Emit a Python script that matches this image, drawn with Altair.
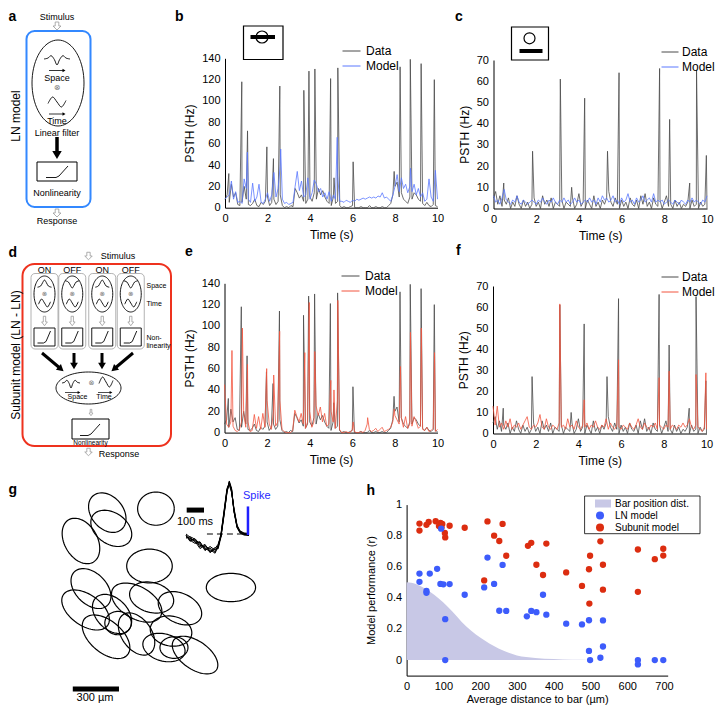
import numpy as np
import pandas as pd
import altair as alt

FONT = "Liberation Sans"
W, H = 707, 698          # canvas; the page adds an 8 px margin
M = 8                    # a reference pixel p is drawn at canvas p - M

DATA_C = "#4a4a4a"
BLUE_M = "#5b78ff"
RED_M = "#f2553f"
LN_C = "#3d5cfb"
SU_C = "#dc2d10"
LAV = "#c8c8e6"
GRAY = "#9a9a9a"

# ======================= b, c, e, f : PSTH traces (Hz) =======================
t_grid = [round(0.1 * i, 1) for i in range(101)]

b_data_base = [8, 12, 5, 22, 10, 14, 3, 2, 5, 20, 8, 3, 2, 4, 8, 2, 1, 5, 3, 6,
               10, 2, 5, 8, 3, 6, 12, 2, 0, 1, 0, 2, 1, 18, 14, 9, 12, 6, 4, 8,
               10, 6, 14, 8, 18, 12, 16, 10, 6, 4, 2, 10, 4, 6, 2, 0, 1, 0, 0, 1,
               2, 0, 0, 0, 1, 0, 0, 0, 2, 0, 0, 1, 0, 0, 1, 0, 0, 2, 4, 12,
               20, 24, 10, 14, 8, 6, 4, 10, 8, 14, 12, 8, 6, 4, 2, 5, 2, 1, 3, 2, 1]
b_data_spike_t = [0.18, 0.79, 1.06, 1.97, 2.28, 2.58, 3.71, 3.95, 4.23, 4.97, 5.13, 5.31,
                  6.03, 7.96, 8.24, 8.72, 9.23, 9.85]
b_data_spike_v = [32, 118, 72, 57, 46, 114, 110, 128, 130, 121, 28, 131, 43, 34, 132, 139, 135, 120]

b_model_base = [8, 10, 12, 25, 8, 15, 5, 6, 4, 27, 18, 8, 5, 23, 6, 10, 22, 5, 4, 8,
                14, 6, 12, 33, 10, 18, 40, 8, 4, 5, 3, 4, 5, 20, 34, 16, 25, 10, 12, 28,
                8, 14, 26, 22, 15, 18, 10, 14, 8, 15, 6, 12, 8, 30, 6, 6, 5, 7, 6, 5,
                7, 6, 8, 7, 8, 9, 8, 9, 10, 9, 10, 9, 11, 10, 14, 9, 10, 8, 6, 12,
                20, 31, 15, 28, 18, 22, 14, 20, 15, 22, 12, 18, 10, 14, 6, 8, 27, 10, 6, 35, 8]
b_model_peak_t = [1.05, 2.62, 5.28, 8.73]
b_model_peak_v = [52, 55, 66, 37]

e_model_base = [45, 8, 5, 10, 6, 2, 1, 3, 10, 18, 5, 10, 1, 2, 17, 4, 15, 3, 18, 5,
                30, 8, 3, 20, 6, 10, 30, 3, 1, 0, 0, 0, 2, 21, 15, 10, 18, 8, 4, 10,
                20, 5, 10, 25, 16, 24, 10, 18, 6, 8, 20, 10, 4, 30, 3, 0, 0, 1, 0, 0,
                3, 1, 0, 0, 1, 0, 2, 8, 3, 1, 2, 4, 1, 3, 5, 1, 2, 3, 5, 10,
                16, 12, 8, 14, 5, 15, 4, 8, 6, 15, 10, 4, 6, 3, 2, 5, 1, 2, 4, 1, 3]
e_model_peak_t = [0.35, 0.84, 1.08, 1.98, 2.31, 2.59, 3.77, 3.98, 4.24, 4.99, 5.14, 5.32,
                  6.04, 6.72, 7.97, 8.26, 8.73, 9.24, 9.86]
e_model_peak_v = [77, 98, 64, 60, 54, 95, 75, 122, 76, 49, 40, 124, 10, 14, 22, 62, 94, 98, 75]

c_data_base = [5, 8, 2, 6, 1, 4, 2, 5, 0, 3, 1, 6, 2, 0, 4, 1, 3, 0, 2, 5,
               1, 3, 0, 6, 2, 4, 1, 5, 0, 3, 2, 1, 4, 0, 3, 2, 1, 5, 0, 2,
               7, 1, 3, 0, 4, 2, 0, 6, 1, 3, 0, 4, 2, 5, 8, 3, 1, 5, 2, 0,
               4, 1, 3, 0, 5, 2, 1, 4, 0, 6, 2, 7, 1, 3, 0, 5, 2, 1, 4, 0,
               3, 6, 1, 2, 0, 4, 1, 3, 0, 2, 1, 3, 0, 4, 1, 2, 0, 3, 1, 2, 0]
c_data_spike_t = [0.48, 1.83, 3.13, 3.66, 4.27, 5.34, 5.88, 7.78, 8.25, 9.19, 9.51, 9.97]
c_data_spike_v = [12, 27, 61, 10, 52, 27, 64, 66, 42, 12, 65, 25]

c_model_base = [6, 3, 4, 2, 5, 9, 4, 3, 2, 4, 3, 6, 3, 2, 4, 3, 2, 3, 4, 3,
                2, 4, 3, 5, 3, 2, 4, 3, 5, 3, 2, 4, 3, 5, 3, 4, 2, 3, 5, 3,
                4, 2, 3, 4, 3, 5, 3, 4, 2, 5, 3, 6, 4, 5, 3, 4, 6, 3, 4, 2,
                5, 3, 4, 7, 3, 4, 2, 5, 3, 4, 6, 3, 4, 5, 3, 7, 3, 4, 3, 4,
                2, 3, 4, 3, 2, 4, 3, 2, 4, 3, 2, 4, 3, 5, 3, 4, 3, 2, 4, 3, 6]

f_model_base = [13, 4, 13, 3, 5, 2, 6, 3, 7, 2, 4, 3, 5, 2, 4, 6, 8, 3, 2, 4,
                3, 5, 9, 3, 2, 7, 3, 2, 4, 3, 2, 5, 3, 4, 2, 7, 3, 4, 2, 6,
                3, 2, 4, 3, 5, 2, 4, 3, 6, 3, 2, 4, 3, 7, 2, 5, 3, 2, 4, 3,
                2, 4, 3, 2, 5, 3, 2, 4, 7, 3, 2, 5, 3, 2, 4, 3, 5, 2, 4, 3,
                2, 4, 3, 2, 4, 3, 2, 4, 3, 5, 3, 4, 7, 3, 2, 4, 3, 2, 1, 3, 2]
f_model_peak_t = [3.13, 4.27, 5.88, 7.78, 8.25, 9.51, 9.97]
f_model_peak_v = [61.5, 16, 35, 26.5, 29.6, 28, 28.8]

# ======================= h : model performance =======================
ln_dist = [35, 35, 54, 54, 63, 83, 92, 100, 117, 94, 105, 105, 158, 211, 220, 238, 261, 252, 271,
           327, 339, 353, 371, 380, 434, 477, 496, 496, 499, 527, 534, 534, 629, 629, 675, 698]
ln_perf = [0.556, 0.503, 0.444, 0.433, 0.556, 0.587, 0.49, 0.487, 0.489, 0.845, 0.263, 0.0,
           0.42, 0.467, 0.659, 0.49, 0.612, 0.317, 0.316, 0.281, 0.316, 0.308, 0.42, 0.292,
           0.234, 0.229, 0.256, 0.059, 0.0, 0.015, 0.255, 0.087, 0.0, -0.028, 0.0, 0.0]
su_dist = [35, 35, 54, 60, 79, 88, 92, 95, 97, 104, 105, 117, 158, 220, 238, 252, 261, 271, 211,
           330, 339, 353, 371, 380, 434, 477, 496, 499, 497, 527, 534, 534, 629, 629, 675, 698, 698]
su_perf = [0.878, 0.833, 0.87, 0.888, 0.893, 0.862, 0.883, 0.854, 0.875, 0.818, 0.789, 0.864,
           0.851, 0.892, 0.80, 0.766, 0.876, 0.671, 0.512, 0.735, 0.754, 0.613, 0.547, 0.749,
           0.564, 0.477, 0.584, 0.671, 0.363, 0.764, 0.613, 0.453, 0.711, 0.439, 0.649, 0.716, 0.672]
bar_dist = [0, 25, 50, 75, 100, 125, 150, 175, 200, 250, 300, 350, 400, 450, 500, 555]
bar_prob = [0.50, 0.49, 0.46, 0.42, 0.37, 0.31, 0.245, 0.19, 0.145, 0.075, 0.03, 0.014, 0.006, 0.002, 0.001, 0.0]
h_models = ["Bar position dist.", "LN model", "Subunit model"]

# ======================= g : receptive fields (µm) =======================
rf_cx = [372, 398, 201, 688, 646, 1175, 231, 266, 403, 364, 442, 563, 660, 844, 562, 786, 740, 805, 942]
rf_cy = [212, 314, 396, 186, 559, 698, 844, 705, 870, 1018, 929, 796, 763, 833, 1000, 981, 1088, 1088, 1137]
rf_semi_major = [143, 146, 159, 119, 148, 160, 175, 153, 149, 182, 86, 179, 146, 149, 153, 136, 140, 91, 169]
rf_semi_minor = [104, 101, 107, 108, 110, 92, 101, 101, 101, 104, 76, 104, 97, 97, 97, 97, 88, 70, 91]
rf_angle = [50, 35, 60, 0, 0, 0, 35, 45, 45, 40, 0, 30, 15, 25, 55, 10, 15, 0, 35]

# spike-triggered waveforms (inset), time in ms before the spike
sta_t = [-364, -341, -312, -283, -254, -225, -196, -179, -162, -144, -127, -114, -101, -87, -69, -52, -29, 0]
sta_traces = [
    [-0.04, -0.10, -0.12, -0.22, -0.24, -0.33, -0.30, -0.25, -0.03, 0.40, 0.84, 1.00, 0.86, 0.45, 0.14, 0.03, 0.00, -0.02],
    [0.00, -0.06, -0.16, -0.15, -0.30, -0.27, -0.35, -0.22, 0.00, 0.45, 0.88, 0.97, 0.82, 0.48, 0.16, 0.05, 0.01, 0.00],
    [-0.08, -0.05, -0.10, -0.25, -0.20, -0.36, -0.28, -0.20, -0.05, 0.38, 0.80, 1.02, 0.88, 0.43, 0.12, 0.02, -0.02, -0.03],
    [-0.02, -0.12, -0.18, -0.16, -0.32, -0.24, -0.31, -0.27, -0.01, 0.43, 0.86, 0.95, 0.80, 0.50, 0.17, 0.06, 0.02, 0.01],
    [-0.06, -0.08, -0.14, -0.28, -0.22, -0.30, -0.37, -0.24, -0.04, 0.41, 0.83, 0.99, 0.85, 0.46, 0.13, 0.04, -0.01, -0.01],
    [-0.03, -0.14, -0.09, -0.20, -0.27, -0.34, -0.26, -0.29, -0.06, 0.36, 0.82, 0.96, 0.87, 0.44, 0.15, 0.03, 0.00, -0.02],
]


# ======================= helpers =======================
def sc(domain, r0, r1):
    return alt.Scale(domain=domain, range=[r0 - M, r1 - M], nice=False, zero=False)


def trace(base, st, sv):
    return pd.DataFrame({"t": t_grid + list(st), "v": list(base) + list(sv)})


def psth_panel(data_df, model_df, ymax, ystep, mcolor, x0, x1, y0, y1, lx, ly, sym=324, loff=5):
    xs = sc([0, 10], x0, x1)
    ys = sc([0, ymax], y0, y1)
    xa = alt.Axis(orient="bottom", offset=(y0 - M) - H, values=[0, 2, 4, 6, 8, 10],
                  title="Time (s)", titlePadding=6)
    ya = alt.Axis(orient="left", offset=-(x0 - M), values=list(range(0, ymax + 1, ystep)),
                  title="PSTH (Hz)", titlePadding=5)
    cs = alt.Scale(domain=["Data", "Model"], range=[DATA_C, mcolor])
    lg = alt.Legend(orient="none", legendX=lx - M, legendY=ly - M - 7.25, title=None,
                    symbolType="stroke", symbolSize=sym, symbolStrokeWidth=1,
                    clipHeight=14.5, rowPadding=0, padding=0, labelOffset=loff,
                    labelFontSize=12, labelFont=FONT, labelColor="black")
    layers = []
    for df, name in ((data_df, "Data"), (model_df, "Model")):
        layers.append(alt.Chart(df.assign(series=name)).mark_line(strokeWidth=0.8).encode(
            x=alt.X("t:Q", scale=xs, axis=xa),
            y=alt.Y("v:Q", scale=ys, axis=ya),
            color=alt.Color("series:N", scale=cs, legend=lg)))
    return alt.layer(*layers)


def ellipse_rows(key, cx, cy, a, b, ang, n=72):
    tt = np.linspace(0, 2 * np.pi, n + 1)
    th = np.radians(ang)
    xs = cx + a * np.cos(tt) * np.cos(th) - b * np.sin(tt) * np.sin(th)
    ys = cy + a * np.cos(tt) * np.sin(th) + b * np.sin(tt) * np.cos(th)
    return [(key, k, float(x), float(y)) for k, (x, y) in enumerate(zip(xs, ys))]


# ======================= panels b, c, e, f =======================
b_data = trace(b_data_base, b_data_spike_t, b_data_spike_v)
c_data = trace(c_data_base, c_data_spike_t, c_data_spike_v)
panel_b = psth_panel(b_data, trace(b_model_base, b_model_peak_t, b_model_peak_v),
                     140, 20, BLUE_M, 225, 437.5, 207.7, 58.3, 342, 51)
panel_c = psth_panel(c_data, trace(c_model_base, [], []),
                     70, 10, BLUE_M, 493.5, 707, 208.5, 60, 661, 52, sym=289, loff=3)
panel_e = psth_panel(b_data, trace(e_model_base, e_model_peak_t, e_model_peak_v),
                     140, 20, RED_M, 224.5, 437.5, 432.6, 283.3, 341, 276)
panel_f = psth_panel(c_data, trace(f_model_base, f_model_peak_t, f_model_peak_v),
                     70, 10, RED_M, 493, 706.5, 433.5, 286, 661, 277, sym=289, loff=3)

# ======================= panel h =======================
hx = sc([0, 710], 406.6, 406.6 + 710 * 257.4 / 700)
hy = sc([-0.1, 1.0], 675.6, 504.6)
hxa = alt.Axis(orient="bottom", offset=(675.6 - M) - H, values=list(range(0, 701, 100)),
               title="Average distance to bar (µm)", titlePadding=2, titleFontSize=11)
hya = alt.Axis(orient="left", offset=-(406.6 - M), values=[0, 0.2, 0.4, 0.6, 0.8, 1.0],
               format="~g", title="Model performance (r)", titlePadding=10, titleFontSize=11)
RECT_PATH = "M-2.75,-1L2.75,-1L2.75,1L-2.75,1Z"
h_leg = alt.Legend(orient="none", legendX=587, legendY=489.75, title=None, symbolSize=64,
                   clipHeight=11.7, rowPadding=0, padding=0, labelOffset=10, labelFontSize=10,
                   labelFont=FONT, labelColor="black", symbolStrokeWidth=0, symbolOpacity=1)
h_cs = alt.Scale(domain=h_models, range=[LAV, LN_C, SU_C])
h_ss = alt.Scale(domain=h_models, range=[RECT_PATH, "circle", "circle"])

bar_df = pd.DataFrame({"d": bar_dist, "p": bar_prob})
pts_df = pd.concat([
    pd.DataFrame({"d": su_dist, "p": su_perf, "model": "Subunit model"}),
    pd.DataFrame({"d": ln_dist, "p": ln_perf, "model": "LN model"}),
])
h_area = alt.Chart(bar_df).mark_area(color=LAV, opacity=1, interpolate="monotone").encode(
    x=alt.X("d:Q", scale=hx, axis=hxa), y=alt.Y("p:Q", scale=hy, axis=hya))
h_pts = alt.Chart(pts_df).mark_point(filled=True, opacity=1, size=40, strokeWidth=0).encode(
    x=alt.X("d:Q", scale=hx, axis=hxa), y=alt.Y("p:Q", scale=hy, axis=hya),
    color=alt.Color("model:N", scale=h_cs, legend=h_leg),
    shape=alt.Shape("model:N", scale=h_ss, legend=h_leg))
panel_h = alt.layer(h_area, h_pts)

# ======================= panel g =======================
gx = sc([0, 1400], 50, 50 + 1400 / 6.494)
gy = sc([0, 1400], 480, 480 + 1400 / 6.494)
rf_rows = []
for i in range(len(rf_cx)):
    rf_rows += ellipse_rows(i, rf_cx[i], rf_cy[i], rf_semi_major[i], rf_semi_minor[i], rf_angle[i])
rf_df = pd.DataFrame(rf_rows, columns=["id", "k", "x", "y"])
g_ell = alt.Chart(rf_df).mark_line(color="black", strokeWidth=1.2).encode(
    x=alt.X("x:Q", scale=gx, axis=None), y=alt.Y("y:Q", scale=gy, axis=None),
    detail="id:N", order="k:Q")
g_bar = alt.Chart(pd.DataFrame({"x0": [148], "x1": [448], "y": [1357]})).mark_rule(
    color="black", strokeWidth=5, strokeCap="butt").encode(
    x=alt.X("x0:Q", scale=gx, axis=None), x2="x1:Q", y=alt.Y("y:Q", scale=gy, axis=None))
g_txt = alt.Chart(pd.DataFrame({"x": [292], "y": [1415], "s": ["300 µm"]})).mark_text(
    font=FONT, fontSize=11, color="black").encode(
    x=alt.X("x:Q", scale=gx, axis=None), y=alt.Y("y:Q", scale=gy, axis=None), text="s:N")
panel_g = alt.layer(g_ell, g_bar, g_txt)

# inset: spike-triggered waveforms
ix = sc([-364, 0], 186, 249)
iy = sc([-0.4, 1.0], 554.8, 482)
sta_df = pd.DataFrame([(j, t, v) for j, tr in enumerate(sta_traces) for t, v in zip(sta_t, tr)],
                      columns=["tr", "t", "v"])
in_lines = alt.Chart(sta_df).mark_line(color="black", strokeWidth=1).encode(
    x=alt.X("t:Q", scale=ix, axis=None), y=alt.Y("v:Q", scale=iy, axis=None), detail="tr:N")
in_base = alt.Chart(pd.DataFrame({"t0": [-243], "t1": [-23], "v": [0]})).mark_rule(
    color="black", strokeWidth=1, strokeDash=[6, 4]).encode(
    x=alt.X("t0:Q", scale=ix, axis=None), x2="t1:Q", y=alt.Y("v:Q", scale=iy, axis=None))
in_scale = alt.Chart(pd.DataFrame({"t0": [-360], "t1": [-260], "v": [0.46]})).mark_rule(
    color="black", strokeWidth=5, strokeCap="butt").encode(
    x=alt.X("t0:Q", scale=ix, axis=None), x2="t1:Q", y=alt.Y("v:Q", scale=iy, axis=None))
in_spike = alt.Chart(pd.DataFrame({"t": [-6], "v0": [-0.02], "v1": [0.53]})).mark_rule(
    color="#2020ff", strokeWidth=2.5, strokeCap="butt").encode(
    x=alt.X("t:Q", scale=ix, axis=None), y=alt.Y("v0:Q", scale=iy, axis=None), y2="v1:Q")
in_txt = alt.Chart(pd.DataFrame({"t": [-312, 45], "v": [0.23, 0.74], "s": ["100 ms", "Spike"],
                                 "c": ["black", "#2828ff"]})).mark_text(font=FONT, fontSize=11).encode(
    x=alt.X("t:Q", scale=ix, axis=None), y=alt.Y("v:Q", scale=iy, axis=None), text="s:N",
    color=alt.Color("c:N", scale=None))
inset = alt.layer(in_lines, in_base, in_scale, in_spike, in_txt)

# ======================= a, d : model diagrams (reference pixel layout) =======================
PXX = sc([M, W + M], M, W + M)
PXY = sc([M, H + M], M, H + M)
sub_cx = [44.5, 72.25, 102.25, 130.75]
sub_kind = ["ON", "OFF", "ON", "OFF"]

rect_rows = [
    (26.5, 90.5, 31, 207, "#3388ff", 2, 8),
    (22.5, 171, 264, 446, "#ee321e", 2, 12),
] + [(cx - 13.5, cx + 13.5, 273.5, 349, "#a0a0a0", 0.8, 4) for cx in sub_cx] + [
    (37, 77, 162, 181, "black", 1, 0),
    (72, 109, 419, 439, "black", 1, 0),
    (243.5, 283, 26, 59.5, "black", 1.2, 0),
    (511.5, 548.5, 27, 60, "black", 1.2, 0),
    (584.6, 700, 496, 533.7, "black", 0.8, 0),
] + [(cx - 10.5, cx + 10.5, 328, 346, "black", 0.9, 0) for cx in sub_cx]
rect_df = pd.DataFrame(rect_rows, columns=["x0", "x1", "y0", "y1", "c", "w", "r"])

DOG = [(-1, 0), (-0.7, -0.15), (-0.45, -0.55), (-0.2, 0.1), (0, 1), (0.2, 0.1), (0.45, -0.55), (0.7, -0.15), (1, 0)]
HUMP = [(-1, 0.8), (-0.55, 0.5), (-0.25, -0.4), (0, -1), (0.25, -0.4), (0.55, 0.5), (1, 0.8)]
VEE = [(u, -w) for u, w in HUMP]
SINE = [(-1, 0.3), (-0.5, -1), (0, 0), (0.5, 1), (1, -0.3)]
wave_specs = [(57, 59, 13, 6, DOG), (57, 102, 9, 5, SINE)]
wave_specs += [(cx, 284, 7, 4, HUMP if kd == "ON" else VEE) for cx, kd in zip(sub_cx, sub_kind)]
wave_specs += [(cx, 303, 6, 4, SINE) for cx in sub_cx]
wave_specs += [(71, 383, 9, 5, DOG), (106, 382, 7, 5, SINE)]
wave_rows = []
for i, (cx, cy, sx, sy, base) in enumerate(wave_specs):
    wave_rows += [(i, k, cx + sx * u, cy + sy * w) for k, (u, w) in enumerate(base)]
wave_df = pd.DataFrame(wave_rows, columns=["id", "k", "x", "y"])

outline_rows = []
diag_ell = [(58, 83, 26, 43)] + [(cx, 294, 10.5, 18) for cx in sub_cx] + [(88.5, 388, 32.5, 16)]
for i, (cx, cy, a, b) in enumerate(diag_ell):
    outline_rows += ellipse_rows("e%d" % i, cx, cy, a, b, 0)
nl_curves = [[(46, 177.5), (56, 177.5), (59, 176), (68, 166)]]
nl_curves += [[(cx - 7, 343), (cx - 1, 343), (cx + 1.5, 341.5), (cx + 6, 331)] for cx in sub_cx]
nl_curves += [[(80, 435.5), (88, 435.5), (91, 434), (100, 424)]]
for i, pts in enumerate(nl_curves):
    outline_rows += [("n%d" % i, k, x, y) for k, (x, y) in enumerate(pts)]
outline_df = pd.DataFrame(outline_rows, columns=["id", "k", "x", "y"])

arrows = [  # x0, y0, x1, y1, shaft width, head size
    (57, 137, 57, 155, 3.5, 90),
    (42, 353, 61, 369, 3, 60), (74, 353, 74, 366, 3, 60),
    (102, 353, 102, 366, 3, 60), (133, 353, 114, 369, 3, 60),
    (49, 70.5, 64, 70.5, 0.8, 12), (49, 114, 64, 114, 0.8, 12),
    (65, 392.5, 79, 392.5, 0.7, 10), (98, 392.5, 111, 392.5, 0.7, 10),
]
bars = [(250.5, 37, 275, 37, 4), (519.5, 51, 542.5, 51, 4)]
rule_df = pd.DataFrame([a[:5] for a in arrows] + bars, columns=["x0", "y0", "x1", "y1", "w"])
head_df = pd.DataFrame([(x1, y1, "triangle-down", float(np.degrees(np.arctan2(-(x1 - x0), y1 - y0)) % 360), s)
                        for x0, y0, x1, y1, _, s in arrows], columns=["x", "y", "shape", "ang", "size"])

BLOCK = "M-0.45,-1L0.45,-1L0.45,0L1,0L0,1L-1,0L-0.45,0Z"
NARROW = "M-0.25,-1L0.25,-1L0.25,0.2L0.6,0.2L0,1L-0.6,0.2L-0.25,0.2Z"
hollow_rows = [(57, 26, BLOCK, 64, GRAY, 0.8), (57, 213, BLOCK, 64, GRAY, 0.8),
               (88.5, 256, BLOCK, 56, GRAY, 0.8), (88.5, 452, BLOCK, 56, GRAY, 0.8)]
hollow_rows += [(cx, 321, NARROW, 90, GRAY, 0.8) for cx in sub_cx]
hollow_rows += [(91, 412.5, NARROW, 40, GRAY, 0.8),
                (262, 37, "circle", 144, "black", 1.2), (529.5, 38.3, "circle", 121, "black", 1.2)]
hollow_df = pd.DataFrame(hollow_rows, columns=["x", "y", "shape", "size", "c", "w"])

text_rows = [
    ("Stimulus", 57, 16.5, 9, 0), ("Space", 57, 78, 9, 0), ("Time", 57, 121, 9, 0),
    ("Linear filter", 57, 132.5, 9, 0), ("Nonlinearity", 57, 192.5, 9, 0),
    ("Response", 57, 221, 9, 0), ("LN model", 16, 116, 12, 270),
    ("Stimulus", 118, 256, 9, 0),
] + [(kd, cx, 269.5, 9, 0) for cx, kd in zip(sub_cx, sub_kind)] + [
    ("Space", 77.5, 397, 7, 0), ("Time", 104, 397, 7, 0), ("Nonlinearity", 90.5, 443, 6.5, 0),
    ("Response", 119, 454, 9, 0), ("Subunit model (LN - LN)", 16, 355, 12, 270),
]
text_df = pd.DataFrame(text_rows, columns=["s", "x", "y", "fs", "ang"])
ltext_df = pd.DataFrame([("Space", 146.5, 285.5), ("Time", 146.5, 304), ("Non-", 146.5, 337.5),
                         ("linearity", 146.5, 345.5)], columns=["s", "x", "y"])
otimes_df = pd.DataFrame([(57, 88, 8)] + [(cx, 294, 6.5) for cx in sub_cx] + [(91.5, 383, 7)],
                         columns=["x", "y", "fs"]).assign(s="⊗")
letters_df = pd.DataFrame([("a", 8.5, 20.5), ("b", 175, 20.5), ("c", 455, 20.5), ("d", 8.5, 257),
                           ("e", 185, 256), ("f", 456, 255), ("g", 8.5, 494), ("h", 366.5, 495)],
                          columns=["s", "x", "y"])


def pxy():
    return dict(x=alt.X("x:Q", scale=PXX, axis=None), y=alt.Y("y:Q", scale=PXY, axis=None))


def rect_layer(r):
    return alt.Chart(rect_df[rect_df.r == r]).mark_rect(cornerRadius=r, fillOpacity=0).encode(
        x=alt.X("x0:Q", scale=PXX, axis=None), x2="x1:Q",
        y=alt.Y("y0:Q", scale=PXY, axis=None), y2="y1:Q",
        stroke=alt.Stroke("c:N", scale=None), strokeWidth=alt.StrokeWidth("w:Q", scale=None))


schem = alt.layer(
    rect_layer(8), rect_layer(12), rect_layer(4), rect_layer(0),
    alt.Chart(outline_df).mark_line(color="black", strokeWidth=0.9).encode(
        detail="id:N", order="k:Q", **pxy()),
    alt.Chart(wave_df).mark_line(color="black", strokeWidth=0.9, interpolate="cardinal").encode(
        detail="id:N", order="k:Q", **pxy()),
    alt.Chart(hollow_df).mark_point(filled=False, opacity=1).encode(
        shape=alt.Shape("shape:N", scale=None), size=alt.Size("size:Q", scale=None),
        stroke=alt.Stroke("c:N", scale=None), strokeWidth=alt.StrokeWidth("w:Q", scale=None), **pxy()),
    alt.Chart(rule_df).mark_rule(color="black", strokeCap="butt").encode(
        x=alt.X("x0:Q", scale=PXX, axis=None), x2="x1:Q",
        y=alt.Y("y0:Q", scale=PXY, axis=None), y2="y1:Q",
        strokeWidth=alt.StrokeWidth("w:Q", scale=None)),
    alt.Chart(head_df).mark_point(filled=True, opacity=1, color="black", strokeWidth=0).encode(
        shape=alt.Shape("shape:N", scale=None), size=alt.Size("size:Q", scale=None),
        angle=alt.Angle("ang:Q", scale=None), **pxy()),
    alt.Chart(text_df).mark_text(font=FONT, color="black", align="center", baseline="middle").encode(
        text="s:N", size=alt.Size("fs:Q", scale=None), angle=alt.Angle("ang:Q", scale=None), **pxy()),
    alt.Chart(ltext_df).mark_text(font=FONT, fontSize=7, color="black", align="left",
                                  baseline="middle").encode(text="s:N", **pxy()),
    alt.Chart(otimes_df).mark_text(font="DejaVu Sans", color="#777777", align="center",
                                   baseline="middle").encode(
        text="s:N", size=alt.Size("fs:Q", scale=None), **pxy()),
    alt.Chart(letters_df).mark_text(font=FONT, fontSize=14, fontWeight="bold", color="black",
                                    align="left", baseline="alphabetic").encode(text="s:N", **pxy()),
)

# ======================= assemble =======================
chart = (
    alt.layer(schem, panel_g, inset, panel_b, panel_c, panel_e, panel_f, panel_h)
    .resolve_scale(x="independent", y="independent", color="independent", shape="independent")
    .properties(width=W, height=H, autosize=alt.AutoSizeParams(type="none"), padding=0)
    .configure_view(strokeWidth=0)
    .configure_axis(grid=False, domainColor="black", domainWidth=1, tickSize=0, labelPadding=5,
                    labelFont=FONT, titleFont=FONT, labelFontSize=11, titleFontSize=12,
                    titleFontWeight="normal", labelColor="black", titleColor="black",
                    labelFlush=False, minExtent=0, labelOverlap=False)
    .configure_legend(labelFont=FONT)
)
chart.save("out.html", embed_options={"renderer": "svg", "actions": False})
